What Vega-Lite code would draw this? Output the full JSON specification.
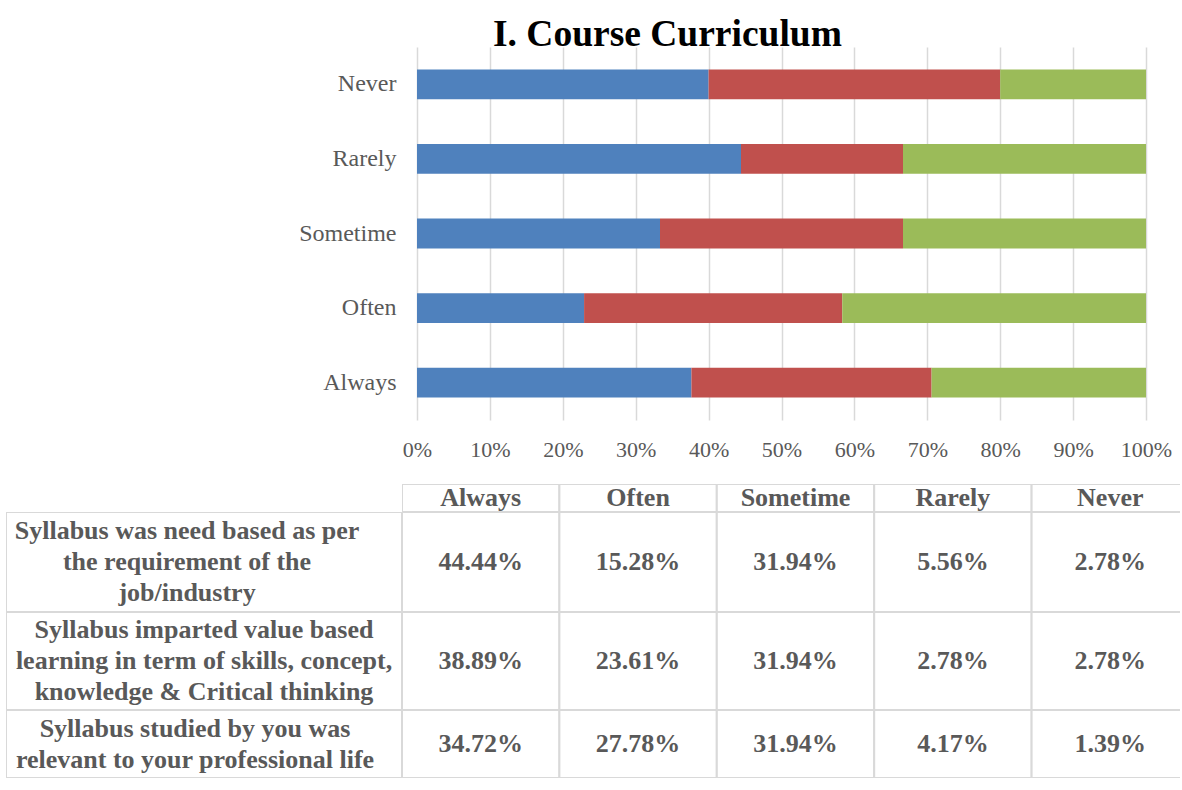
{
  "$schema": "https://vega.github.io/schema/vega-lite/v6.json",
  "padding": {"left": 6, "top": 15, "right": 0, "bottom": 0},
  "background": "#ffffff",
  "config": {
    "view": {"stroke": null},
    "font": "Liberation Serif",
    "axis": {"labelFont": "Liberation Serif"},
    "title": {"font": "Liberation Serif"}
  },
  "datasets": {
    "d": [
      {"series": "Syllabus was need based as per the requirement of the job/industry", "n": 1, "category": "Always", "value": 0.4444},
      {"series": "Syllabus was need based as per the requirement of the job/industry", "n": 1, "category": "Often", "value": 0.1528},
      {"series": "Syllabus was need based as per the requirement of the job/industry", "n": 1, "category": "Sometime", "value": 0.3194},
      {"series": "Syllabus was need based as per the requirement of the job/industry", "n": 1, "category": "Rarely", "value": 0.0556},
      {"series": "Syllabus was need based as per the requirement of the job/industry", "n": 1, "category": "Never", "value": 0.0278},
      {"series": "Syllabus imparted value based learning in term of skills, concept, knowledge & Critical thinking", "n": 2, "category": "Always", "value": 0.3889},
      {"series": "Syllabus imparted value based learning in term of skills, concept, knowledge & Critical thinking", "n": 2, "category": "Often", "value": 0.2361},
      {"series": "Syllabus imparted value based learning in term of skills, concept, knowledge & Critical thinking", "n": 2, "category": "Sometime", "value": 0.3194},
      {"series": "Syllabus imparted value based learning in term of skills, concept, knowledge & Critical thinking", "n": 2, "category": "Rarely", "value": 0.0278},
      {"series": "Syllabus imparted value based learning in term of skills, concept, knowledge & Critical thinking", "n": 2, "category": "Never", "value": 0.0278},
      {"series": "Syllabus studied by you was relevant to your professional life", "n": 3, "category": "Always", "value": 0.3472},
      {"series": "Syllabus studied by you was relevant to your professional life", "n": 3, "category": "Often", "value": 0.2778},
      {"series": "Syllabus studied by you was relevant to your professional life", "n": 3, "category": "Sometime", "value": 0.3194},
      {"series": "Syllabus studied by you was relevant to your professional life", "n": 3, "category": "Rarely", "value": 0.0417},
      {"series": "Syllabus studied by you was relevant to your professional life", "n": 3, "category": "Never", "value": 0.0139}
    ],
    "lab": [
      {"n": 1, "lines": ["Syllabus was need based as per", "the requirement of the", "job/industry"]},
      {"n": 2, "lines": ["Syllabus imparted value based", "learning in term of skills, concept,", "knowledge & Critical thinking"]},
      {"n": 3, "lines": ["Syllabus studied by you was", "relevant to your professional life"]}
    ]
  },
  "spacing": 24,
  "vconcat": [
    {
      "width": 1140,
      "height": 373,
      "title": {
        "text": "I. Course Curriculum",
        "anchor": "start",
        "frame": "group",
        "dx": 487,
        "offset": -36,
        "baseline": "alphabetic",
        "fontSize": 37.5,
        "fontWeight": "bold",
        "font": "Liberation Serif",
        "color": "#000000"
      },
      "data": {"name": "d"},
      "mark": {"type": "bar"},
      "encoding": {
        "y": {
          "field": "category",
          "type": "nominal",
          "sort": ["Never", "Rarely", "Sometime", "Often", "Always"],
          "scale": {"paddingInner": 0.6, "paddingOuter": 0.3},
          "axis": {
            "title": null,
            "offset": -411,
            "domain": false,
            "ticks": false,
            "tickSize": 0,
            "grid": false,
            "labelPadding": 21,
            "labelFontSize": 24,
            "labelColor": "#595959",
            "labelFont": "Liberation Serif"
          }
        },
        "x": {
          "field": "value",
          "type": "quantitative",
          "stack": "normalize",
          "scale": {"domain": [0, 1], "nice": false, "range": [411, 1140]},
          "axis": {
            "title": null,
            "values": [0, 0.1, 0.2, 0.3, 0.4, 0.5, 0.6, 0.7, 0.8, 0.9, 1],
            "format": ".0%",
            "grid": true,
            "gridColor": "#d9d9d9",
            "gridWidth": 1.5,
            "domain": false,
            "ticks": false,
            "tickSize": 0,
            "labelPadding": 19,
            "labelFontSize": 22,
            "labelColor": "#595959",
            "labelFont": "Liberation Serif",
            "labelFlush": false,
            "labelOverlap": false
          }
        },
        "color": {
          "field": "series",
          "type": "nominal",
          "scale": {
            "domain": [
              "Syllabus was need based as per the requirement of the job/industry",
              "Syllabus imparted value based learning in term of skills, concept, knowledge & Critical thinking",
              "Syllabus studied by you was relevant to your professional life"
            ],
            "range": ["#4F81BD", "#C0504D", "#9BBB59"]
          },
          "legend": null
        },
        "order": {"field": "n", "type": "quantitative"}
      }
    },
    {
      "spacing": 0,
      "vconcat": [
        {
          "spacing": 0,
          "hconcat": [
            {
              "width": 396,
              "height": 28,
              "data": {"name": "lab"},
              "transform": [{"filter": "datum.n === 1"}],
              "mark": {"type": "rect", "opacity": 0, "clip": true},
              "encoding": {}
            },
            {
              "width": 778,
              "height": 28,
              "data": {"name": "d"},
              "transform": [{"filter": "datum.n === 1"}],
              "encoding": {
                "x": {
                  "field": "category",
                  "type": "nominal",
                  "sort": ["Always", "Often", "Sometime", "Rarely", "Never"],
                  "scale": {"range": [0, 787], "paddingInner": 0, "paddingOuter": 0},
                  "axis": null
                }
              },
              "layer": [
                {"mark": {"type": "rect", "fill": "#ffffff", "stroke": "#d9d9d9", "strokeWidth": 2, "clip": true}},
                {
                  "mark": {"type": "text", "fontSize": 26, "fontWeight": "bold", "font": "Liberation Serif", "color": "#595959", "clip": true},
                  "encoding": {"text": {"field": "category", "type": "nominal"}}
                }
              ]
            }
          ]
        },
        {
          "spacing": 0,
          "hconcat": [
            {
              "width": 396,
              "height": 100,
              "data": {"name": "lab"},
              "transform": [{"filter": "datum.n === 1"}],
              "layer": [
                {"mark": {"type": "rect", "fill": "#ffffff", "stroke": "#d9d9d9", "strokeWidth": 2, "clip": true}, "encoding": {}},
                {
                  "mark": {"type": "text", "fontSize": 26, "fontWeight": "bold", "font": "Liberation Serif", "color": "#595959", "lineHeight": 31, "dx": -17, "dy": -31, "clip": true},
                  "encoding": {"text": {"field": "lines"}}
                }
              ]
            },
            {
              "width": 778,
              "height": 100,
              "data": {"name": "d"},
              "transform": [{"filter": "datum.n === 1"}],
              "encoding": {
                "x": {
                  "field": "category",
                  "type": "nominal",
                  "sort": ["Always", "Often", "Sometime", "Rarely", "Never"],
                  "scale": {"range": [0, 787], "paddingInner": 0, "paddingOuter": 0},
                  "axis": null
                }
              },
              "layer": [
                {"mark": {"type": "rect", "fill": "#ffffff", "stroke": "#d9d9d9", "strokeWidth": 2, "clip": true}},
                {
                  "mark": {"type": "text", "fontSize": 26, "fontWeight": "bold", "font": "Liberation Serif", "color": "#595959", "clip": true},
                  "encoding": {"text": {"field": "value", "type": "quantitative", "format": ".2%"}}
                }
              ]
            }
          ]
        },
        {
          "spacing": 0,
          "hconcat": [
            {
              "width": 396,
              "height": 98,
              "data": {"name": "lab"},
              "transform": [{"filter": "datum.n === 2"}],
              "layer": [
                {"mark": {"type": "rect", "fill": "#ffffff", "stroke": "#d9d9d9", "strokeWidth": 2, "clip": true}, "encoding": {}},
                {
                  "mark": {"type": "text", "fontSize": 26, "fontWeight": "bold", "font": "Liberation Serif", "color": "#595959", "lineHeight": 31, "dx": 0, "dy": -31, "clip": true},
                  "encoding": {"text": {"field": "lines"}}
                }
              ]
            },
            {
              "width": 778,
              "height": 98,
              "data": {"name": "d"},
              "transform": [{"filter": "datum.n === 2"}],
              "encoding": {
                "x": {
                  "field": "category",
                  "type": "nominal",
                  "sort": ["Always", "Often", "Sometime", "Rarely", "Never"],
                  "scale": {"range": [0, 787], "paddingInner": 0, "paddingOuter": 0},
                  "axis": null
                }
              },
              "layer": [
                {"mark": {"type": "rect", "fill": "#ffffff", "stroke": "#d9d9d9", "strokeWidth": 2, "clip": true}},
                {
                  "mark": {"type": "text", "fontSize": 26, "fontWeight": "bold", "font": "Liberation Serif", "color": "#595959", "clip": true},
                  "encoding": {"text": {"field": "value", "type": "quantitative", "format": ".2%"}}
                }
              ]
            }
          ]
        },
        {
          "spacing": 0,
          "hconcat": [
            {
              "width": 396,
              "height": 68,
              "data": {"name": "lab"},
              "transform": [{"filter": "datum.n === 3"}],
              "layer": [
                {"mark": {"type": "rect", "fill": "#ffffff", "stroke": "#d9d9d9", "strokeWidth": 2, "clip": true}, "encoding": {}},
                {
                  "mark": {"type": "text", "fontSize": 26, "fontWeight": "bold", "font": "Liberation Serif", "color": "#595959", "lineHeight": 31, "dx": -9, "dy": -15.5, "clip": true},
                  "encoding": {"text": {"field": "lines"}}
                }
              ]
            },
            {
              "width": 778,
              "height": 68,
              "data": {"name": "d"},
              "transform": [{"filter": "datum.n === 3"}],
              "encoding": {
                "x": {
                  "field": "category",
                  "type": "nominal",
                  "sort": ["Always", "Often", "Sometime", "Rarely", "Never"],
                  "scale": {"range": [0, 787], "paddingInner": 0, "paddingOuter": 0},
                  "axis": null
                }
              },
              "layer": [
                {"mark": {"type": "rect", "fill": "#ffffff", "stroke": "#d9d9d9", "strokeWidth": 2, "clip": true}},
                {
                  "mark": {"type": "text", "fontSize": 26, "fontWeight": "bold", "font": "Liberation Serif", "color": "#595959", "clip": true},
                  "encoding": {"text": {"field": "value", "type": "quantitative", "format": ".2%"}}
                }
              ]
            }
          ]
        }
      ]
    }
  ]
}
